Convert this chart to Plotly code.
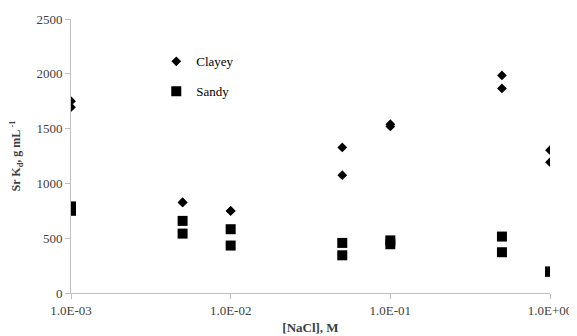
import plotly.graph_objects as go

nacl = [1e-3, 1e-3, 5e-3, 5e-3, 1e-2, 1e-2, 5e-2, 5e-2, 1e-1, 1e-1, 5e-1, 5e-1, 1.0, 1.0]
clayey = [1750, 1695, 826, 826, 749, 749, 1328, 1075, 1540, 1520, 1985, 1867, 1303, 1194]
sandy = [790, 750, 658, 542, 582, 433, 457, 344, 480, 445, 515, 372, 195, 195]
xtick_vals = [1e-3, 1e-2, 1e-1, 1.0]
xtick_text = ["1.0E-03", "1.0E-02", "1.0E-01", "1.0E+00"]
ytick_vals = [0, 500, 1000, 1500, 2000, 2500]

font_family = "Times New Roman, Liberation Serif, DejaVu Serif, serif"

fig = go.Figure()
fig.add_trace(go.Scatter(x=nacl, y=clayey, mode="markers", name="Clayey",
                         legendgroup="c",
                         marker=dict(symbol="diamond", size=7.5, color="black")))
fig.add_trace(go.Scatter(x=nacl, y=sandy, mode="markers", name="Sandy",
                         legendgroup="s",
                         marker=dict(symbol="square", size=10, color="black")))

axis_common = dict(showgrid=False, zeroline=False, showline=True, automargin=False,
                   linecolor="#bfbfbf", linewidth=1, ticks="outside",
                   tickcolor="#bfbfbf", ticklen=5,
                   tickfont=dict(family=font_family, size=13, color="#404040"))

# page body has an 8px margin, so the figure is sized to fit inside it
fig.update_layout(
    width=569, height=328,
    margin=dict(l=63, r=27, t=11, b=43),
    paper_bgcolor="white", plot_bgcolor="white",
    font=dict(family=font_family, color="black"),
    showlegend=True,
    legend=dict(x=0.178, y=0.90, xanchor="left", yanchor="top",
                bgcolor="rgba(0,0,0,0)", tracegroupgap=10,
                font=dict(family=font_family, size=13, color="black"),
                itemwidth=30),
    xaxis=dict(type="log", range=[-3, 0], tickvals=xtick_vals, ticktext=xtick_text,
               title=dict(text="<b>[NaCl], M</b>", standoff=6,
                          font=dict(family=font_family, size=13, color="#404040")),
               **axis_common),
    yaxis=dict(range=[0, 2500], tickvals=ytick_vals,
               title=dict(text="<b>Sr K<sub>d</sub>, g mL<sup> -1</sup></b>", standoff=20,
                          font=dict(family=font_family, size=12, color="#404040")),
               **axis_common),
)

fig.write_html("out.html")
